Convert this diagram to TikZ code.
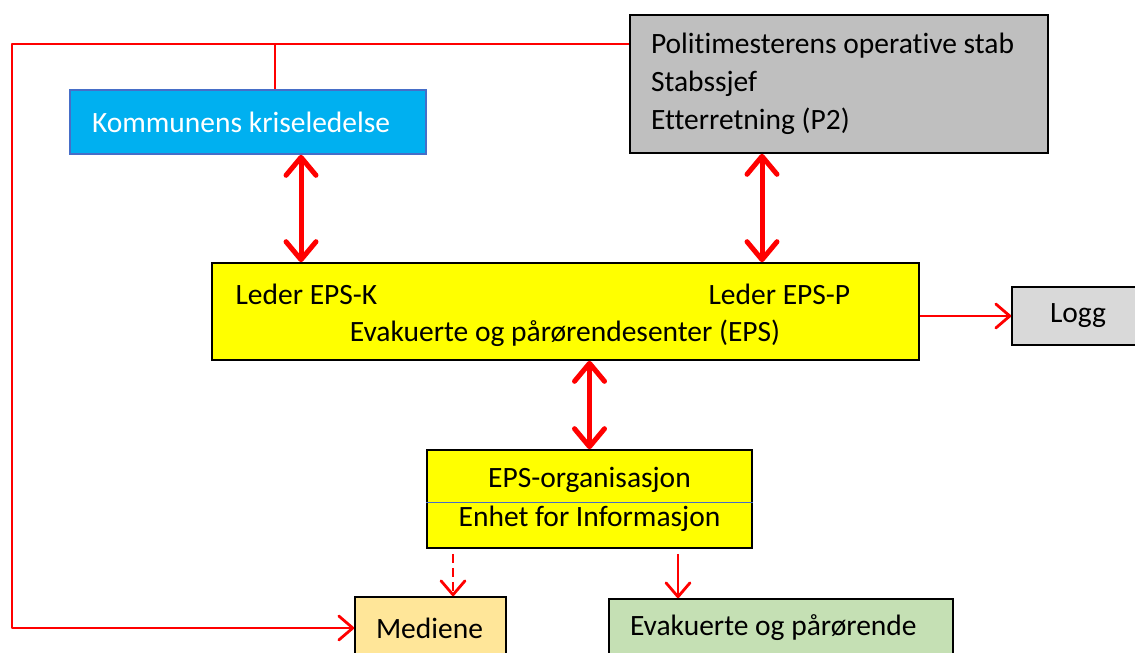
\documentclass[tikz,border=0pt]{standalone}
\usepackage{fontspec}
\setmainfont{Carlito}[Ligatures=NoCommon]
\usetikzlibrary{arrows.meta}

\definecolor{kriseblue}{RGB}{0,176,240}
\definecolor{kriseedge}{RGB}{70,110,200}
\definecolor{stabgray}{RGB}{191,191,191}
\definecolor{logggray}{RGB}{217,217,217}
\definecolor{epsyellow}{RGB}{255,255,0}
\definecolor{mediaorange}{RGB}{255,230,153}
\definecolor{evakgreen}{RGB}{197,224,180}
\definecolor{linered}{RGB}{255,0,0}

\begin{document}
\begin{tikzpicture}[x=1pt,y=-1pt,
  font=\fontsize{29.5}{38}\selectfont,
  box/.style={draw=black,line width=1.6pt,inner sep=0pt,rectangle},
  redline/.style={draw=linered,line width=2.8pt,line join=round},
  thinarrow/.style={redline,-{Straight Barb[length=14pt,width=24pt,line cap=round,line join=round]}},
  bigarrow/.style={draw=linered,line width=5pt,
    {Straight Barb[length=18pt,width=30pt,line cap=round,line join=round]}-{Straight Barb[length=18pt,width=30pt,line cap=round,line join=round]}}]
\useasboundingbox (0,0) rectangle (1135,653);
\clip (0,0) rectangle (1135,653);

% boxes
\node[box,draw=kriseedge,fill=kriseblue,text=white,minimum width=356pt,minimum height=64pt,
  text width=312pt,align=flush left] (krise) at (248,122) {Kommunens kriseledelse};
\node[box,fill=stabgray,minimum width=418pt,minimum height=138pt,text width=376pt,align=flush left]
  (stab) at (839,84) {Politimesterens operative stab\\Stabssjef\\Etterretning (P2)};
\node[box,fill=epsyellow,minimum width=707pt,minimum height=97pt] (eps) at (565.5,311.5) {};
\node[anchor=west] (lederk) at (232,294) {Leder EPS-K};
\node[anchor=west] (lederp) at (705,294) {Leder EPS-P};
\node (epsnavn) at (565,333) {Evakuerte og pårørendesenter (EPS)};
\node[box,fill=logggray,minimum width=132pt,minimum height=58pt] (logg) at (1078,316) {Logg};
\node[box,fill=epsyellow,minimum width=325pt,minimum height=98pt,align=center,
  font=\fontsize{29.5}{39}\selectfont] (org) at (589.5,499) {EPS-organisasjon\\Enhet for Informasjon};
\node[box,fill=mediaorange,minimum width=151pt,minimum height=62pt,text width=109pt,align=flush left]
  (medier) at (430.5,628) {Mediene};
\node[box,fill=evakgreen,minimum width=344pt,minimum height=58pt,text width=302pt,align=flush left]
  (evak) at (781,628) {Evakuerte og pårørende};
\draw[draw=kriseedge,line width=1pt] ([yshift=-3pt]org.west) -- ([yshift=-3pt]org.east);

% connectors
\coordinate (hjorne) at (12,44);
\coordinate (grein) at (275,44);
\coordinate (kx) at (301,0);
\coordinate (px) at (762,0);
\coordinate (mx) at (453,0);
\coordinate (ex) at (678,0);

\draw[thinarrow] ([yshift=40pt]stab.west) -- (hjorne) |- (medier.west);
\draw[redline] (grein) -- (grein |- krise.north);
\draw[bigarrow] (krise.south -| kx) -- (eps.north -| kx);
\draw[bigarrow] (stab.south -| px) -- (eps.north -| px);
\draw[bigarrow] (eps.south -| org.north) -- (org.north);
\draw[thinarrow] (eps.east |- logg.west) -- (logg.west);
\draw[thinarrow,dashed,dash pattern=on 9pt off 5pt] ([yshift=-5pt]org.south -| mx) -- (medier.north -| mx);
\draw[thinarrow] ([yshift=-5pt]org.south -| ex) -- (evak.north -| ex);
\end{tikzpicture}
\end{document}
